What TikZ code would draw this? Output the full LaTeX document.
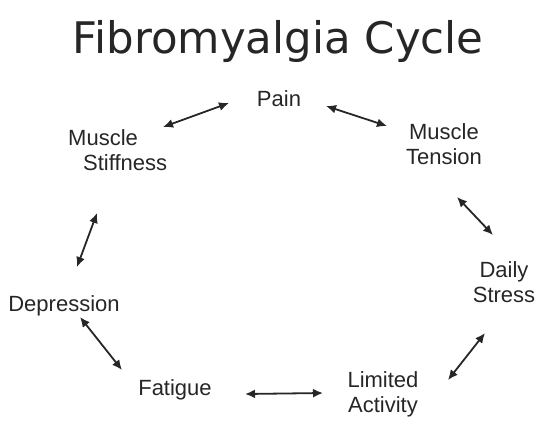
\documentclass[tikz,border=0pt]{standalone}
\usepackage{fontspec}
\setmainfont{Liberation Sans}
\newfontfamily\titlefont{DejaVu Sans}
\usepackage{tikz}
\usetikzlibrary{arrows.meta}

\begin{document}
\begin{tikzpicture}[
        x=1pt, y=-1pt,
        font=\fontsize{22}{25}\selectfont,
        stage/.style={
            anchor=base, align=center, inner sep=0pt, text=black!85
        },
        twoway/.style={
            {Latex[length=10pt,width=9pt]}-{Latex[length=10pt,width=9pt]},
            line width=1.8pt, black!85
        }
    ]
    \useasboundingbox (0,0) rectangle (548,445);

    % Title
    \node[anchor=base, inner sep=0pt, text=black!85,
          font=\titlefont\fontsize{43.5}{50}\selectfont] (title) at (278,53) {Fibromyalgia Cycle};

    % Stages round the cycle (base = last line)
    \node[stage] (pain) at (279,106) {Pain};
    \node[stage] (tension) at (444,164) {Muscle\\Tension};
    \node[stage] (stress) at (504,302) {Daily\\Stress};
    \node[stage] (limited) at (383,412) {Limited\\Activity};
    \node[stage] (fatigue) at (175,395) {Fatigue};
    \node[stage] (depression) at (64,311) {Depression};
    \node[stage, anchor=base west, align=left] (stiffness) at (68,170) {Muscle\\\hspace*{15pt}Stiffness};

    % Arrow ends
    \coordinate (sp1) at (163,127);  \coordinate (sp2) at (229,103);
    \coordinate (pt1) at (326,106);  \coordinate (pt2) at (387,126);
    \coordinate (ts1) at (457,197);  \coordinate (ts2) at (493,235);
    \coordinate (sl1) at (485,333);  \coordinate (sl2) at (448,380);
    \coordinate (lf1) at (323,393);  \coordinate (lf2) at (245,394);
    \coordinate (fd1) at (122,370);  \coordinate (fd2) at (80,317);
    \coordinate (ds1) at (77,267);   \coordinate (ds2) at (97,213);

    % Two-way links
    \draw[twoway] (sp1) -- (sp2);
    \draw[twoway] (pt1) -- (pt2);
    \draw[twoway] (ts1) -- (ts2);
    \draw[twoway] (sl1) -- (sl2);
    \draw[twoway] (lf1) -- (lf2);
    \draw[twoway] (fd1) -- (fd2);
    \draw[twoway] (ds1) -- (ds2);

\end{tikzpicture}
\end{document}
